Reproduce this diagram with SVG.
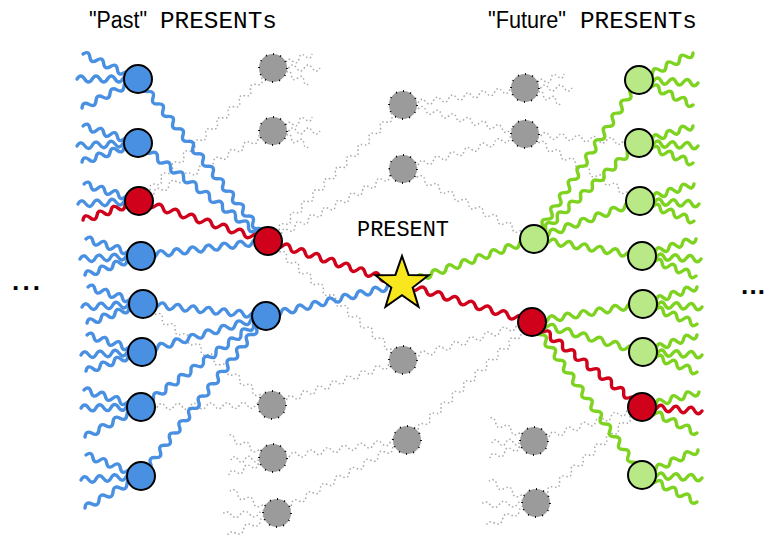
<svg xmlns="http://www.w3.org/2000/svg" width="767" height="541" viewBox="0 0 767 541">
  <style>
    .b{stroke:#4a90e2;stroke-width:3.4;stroke-linecap:round}
    .r{stroke:#d0021b;stroke-width:3.4;stroke-linecap:round}
    .g{stroke:#7ed321;stroke-width:3.4;stroke-linecap:round}
    .d{stroke:#a8a8a8;stroke-width:1.5;stroke-dasharray:1.5 2.5}
    .nb{fill:#4a90e2;stroke:#000;stroke-width:2}
    .nr{fill:#d0021b;stroke:#000;stroke-width:2}
    .ng{fill:#b8e986;stroke:#000;stroke-width:2}
    .nd{fill:#9b9b9b;stroke:#000;stroke-width:1.8;stroke-dasharray:1 6}
    .mono{font-family:'Liberation Mono','DejaVu Sans Mono',monospace}
    .sans{font-family:'Liberation Sans',Arial,sans-serif}
  </style>
  <defs>
    <!-- wavy strokes along the x axis: N periods of 16px, amplitude 3px -->
    <path id="w3" fill="none" vector-effect="non-scaling-stroke" d="M0 0q4-6 8 0t8 0 8 0 8 0 8 0 8 0"/>
    <path id="w4" fill="none" vector-effect="non-scaling-stroke" d="M0 0q4-6 8 0t8 0 8 0 8 0 8 0 8 0 8 0 8 0"/>
    <path id="w7" fill="none" vector-effect="non-scaling-stroke" d="M0 0q4-6 8 0t8 0 8 0 8 0 8 0 8 0 8 0 8 0 8 0 8 0 8 0 8 0 8 0 8 0"/>
    <path id="w8" fill="none" vector-effect="non-scaling-stroke" d="M0 0q4-6 8 0t8 0 8 0 8 0 8 0 8 0 8 0 8 0 8 0 8 0 8 0 8 0 8 0 8 0 8 0 8 0"/>
    <path id="w9" fill="none" vector-effect="non-scaling-stroke" d="M0 0q4-6 8 0t8 0 8 0 8 0 8 0 8 0 8 0 8 0 8 0 8 0 8 0 8 0 8 0 8 0 8 0 8 0 8 0 8 0"/>
    <path id="w10" fill="none" vector-effect="non-scaling-stroke" d="M0 0q4-6 8 0t8 0 8 0 8 0 8 0 8 0 8 0 8 0 8 0 8 0 8 0 8 0 8 0 8 0 8 0 8 0 8 0 8 0 8 0 8 0"/>
    <path id="w11" fill="none" vector-effect="non-scaling-stroke" d="M0 0q4-6 8 0t8 0 8 0 8 0 8 0 8 0 8 0 8 0 8 0 8 0 8 0 8 0 8 0 8 0 8 0 8 0 8 0 8 0 8 0 8 0 8 0 8 0"/>
    <path id="w12" fill="none" vector-effect="non-scaling-stroke" d="M0 0q4-6 8 0t8 0 8 0 8 0 8 0 8 0 8 0 8 0 8 0 8 0 8 0 8 0 8 0 8 0 8 0 8 0 8 0 8 0 8 0 8 0 8 0 8 0 8 0 8 0"/>
    <path id="w13" fill="none" vector-effect="non-scaling-stroke" d="M0 0q4-6 8 0t8 0 8 0 8 0 8 0 8 0 8 0 8 0 8 0 8 0 8 0 8 0 8 0 8 0 8 0 8 0 8 0 8 0 8 0 8 0 8 0 8 0 8 0 8 0 8 0 8 0"/>

    <!-- three loose ends fanning out to the left of a node -->
    <g id="fanL">
      <use href="#w4" transform="matrix(-.859 -.266 .295 -.955 0 0)"/>
      <use href="#w4" transform="matrix(-.953 .047 -.049 -.998 0 0)"/>
      <use href="#w4" transform="matrix(-.875 .297 -.321 -.947 0 0)"/>
    </g>
    <!-- three loose ends fanning out to the right of a node -->
    <g id="fanR">
      <use href="#w4" transform="matrix(.844 -.266 .300 .954 0 0)"/>
      <use href="#w4" transform="matrix(.922 .047 -.051 .998 0 0)"/>
      <use href="#w4" transform="matrix(.844 .3125 -.347 .938 0 0)"/>
    </g>
    <!-- short dotted ends -->
    <g id="fanGR">
      <use href="#w3" transform="matrix(.8125 -.292 .338 .942 0 0)"/>
      <use href="#w3" transform="matrix(.979 0 0 1 0 0)"/>
      <use href="#w3" transform="matrix(.771 .3125 -.376 .927 0 0)"/>
    </g>
    <g id="fanGLs">
      <use href="#w3" transform="matrix(-.958 -.458 .431 -.902 0 0)"/>
      <use href="#w3" transform="matrix(-.875 .042 -.048 -1 0 0)"/>
      <use href="#w3" transform="matrix(-.917 .354 -.36 -.932 0 0)"/>
    </g>
    <g id="fanGLl">
      <use href="#w3" transform="matrix(-.979 -.458 .424 -.906 0 0)"/>
      <use href="#w3" transform="matrix(-1.146 .042 -.036 -1 0 0)"/>
      <use href="#w3" transform="matrix(-1.042 .5 -.432 -.901 0 0)"/>
    </g>
  </defs>

  <rect width="767" height="541" fill="#fff"/>

  <g id="connectors">
    <!-- dotted grey alternatives -->
    <g class="d">
      <use href="#w12" transform="matrix(.698 -.693 .704 .710 139 201)"/>
      <use href="#w9" transform="matrix(.931 -.486 .463 .886 139 201)"/>
      <use href="#w10" transform="matrix(.806 .631 -.617 .788 143 304)"/>
      <use href="#w8" transform="matrix(1.023 -.016 .015 1 141 407)"/>
      <use href="#w12" transform="matrix(.703 -.708 .710 .705 268 241)"/>
      <use href="#w10" transform="matrix(.844 -.45 .471 .882 268 241)"/>
      <use href="#w11" transform="matrix(.767 .676 -.661 .750 268 241)"/>
      <use href="#w9" transform="matrix(.910 -.3125 .325 .946 272 405)"/>
      <use href="#w8" transform="matrix(1.047 -.141 .133 .991 273 458)"/>
      <use href="#w9" transform="matrix(.903 -.507 .490 .872 277 513)"/>
      <use href="#w8" transform="matrix(.953 -.133 .138 .990 403 105)"/>
      <use href="#w8" transform="matrix(.953 .227 -.231 .973 403 105)"/>
      <use href="#w8" transform="matrix(.953 -.273 .276 .961 403 169)"/>
      <use href="#w9" transform="matrix(.910 .486 -.471 .882 403 169)"/>
      <use href="#w8" transform="matrix(1.008 -.297 .283 .959 403 360)"/>
      <use href="#w11" transform="matrix(.710 -.670 .686 .727 407 440)"/>
      <use href="#w7" transform="matrix(1.018 .080 -.079 .997 525 134)"/>
      <use href="#w8" transform="matrix(.898 .523 -.503 .864 525 134)"/>
      <use href="#w7" transform="matrix(.964 -.304 .300 .954 534 441)"/>
      <use href="#w9" transform="matrix(.736 -.667 .671 .741 536 503)"/>
      <use href="#fanGR" transform="translate(273 68)"/>
      <use href="#fanGR" transform="translate(273 131)"/>
      <use href="#fanGR" transform="translate(525 88)"/>
      <use href="#fanGLs" transform="translate(273 458)"/>
      <use href="#fanGLs" transform="translate(534 441)"/>
      <use href="#fanGLl" transform="translate(277 513)"/>
      <use href="#fanGLl" transform="translate(536 503)"/>
    </g>

    <!-- loose ends of the outer columns -->
    <g class="b">
      <g transform="translate(138 79)">
        <use href="#w4" transform="matrix(-.859 -.391 .414 -.911 0 0)"/>
        <use href="#w4" transform="matrix(-.953 0 0 -1 0 0)"/>
        <use href="#w4" transform="matrix(-.875 .453 -.460 -.888 0 0)"/>
      </g>
      <use href="#fanL" transform="translate(138 143)"/>
      <g transform="translate(139 201)">
        <use href="#w4" transform="matrix(-.859 -.266 .295 -.955 0 0)"/>
        <use href="#w4" transform="matrix(-.953 .047 -.049 -.998 0 0)"/>
      </g>
      <use href="#fanL" transform="translate(141 256)"/>
      <use href="#fanL" transform="translate(143 304)"/>
      <use href="#fanL" transform="translate(142 352)"/>
      <g transform="translate(141 407)">
        <use href="#w4" transform="matrix(-.891 -.266 .286 -.958 0 0)"/>
        <use href="#w4" transform="matrix(-.9375 .016 -.017 -1 0 0)"/>
        <use href="#w4" transform="matrix(-.875 .469 -.472 -.882 0 0)"/>
      </g>
      <g transform="translate(141 476)">
        <use href="#w4" transform="matrix(-.859 -.328 .357 -.934 0 0)"/>
        <use href="#w4" transform="matrix(-.9375 .0625 -.067 -.998 0 0)"/>
        <use href="#w4" transform="matrix(-.875 .5 -.496 -.868 0 0)"/>
      </g>
    </g>
    <g class="g">
      <g transform="translate(639 80)">
        <use href="#w4" transform="matrix(.844 -.422 .447 .894 0 0)"/>
        <use href="#w4" transform="matrix(.922 .047 -.051 .998 0 0)"/>
        <use href="#w4" transform="matrix(.844 .391 -.420 .908 0 0)"/>
      </g>
      <use href="#fanR" transform="translate(639 143)"/>
      <use href="#fanR" transform="translate(640 201)"/>
      <use href="#fanR" transform="translate(642 256)"/>
      <use href="#fanR" transform="translate(643 304)"/>
      <use href="#fanR" transform="translate(643 352)"/>
      <g transform="translate(642 407)">
        <use href="#w4" transform="matrix(.891 -.234 .255 .968 0 0)"/>
        <use href="#w4" transform="matrix(.859 .406 -.428 .905 0 0)"/>
      </g>
      <g transform="translate(642 475)">
        <use href="#w4" transform="matrix(.875 -.391 .408 .913 0 0)"/>
        <use href="#w4" transform="matrix(.9375 .047 -.05 .999 0 0)"/>
        <use href="#w4" transform="matrix(.859 .422 -.44 .897 0 0)"/>
      </g>
    </g>

    <!-- blue links into the middle-left nodes -->
    <g class="b">
      <use href="#w13" transform="matrix(.625 .779 -.780 .626 138 79)"/>
      <use href="#w10" transform="matrix(.8125 .6125 -.602 .799 138 143)"/>
      <use href="#w8" transform="matrix(.992 -.117 .117 .993 141 256)"/>
      <use href="#w8" transform="matrix(.961 .094 -.097 .995 143 304)"/>
      <use href="#w8" transform="matrix(.969 -.281 .279 .960 142 352)"/>
      <use href="#w10" transform="matrix(.781 -.569 .589 .809 141 407)"/>
      <use href="#w13" transform="matrix(.601 -.769 .788 .616 141 476)"/>
      <use href="#w9" transform="matrix(.944 -.222 .229 .974 266 316)"/>
    </g>
    <!-- green links out of the middle-right nodes -->
    <g class="g">
      <use href="#w9" transform="matrix(.917 -.3125 .323 .946 402 284)"/>
      <use href="#w12" transform="matrix(.547 -.828 .835 .551 534 239)"/>
      <use href="#w9" transform="matrix(.729 -.667 .675 .738 534 239)"/>
      <use href="#w7" transform="matrix(.946 -.339 .337 .941 534 239)"/>
      <use href="#w7" transform="matrix(.964 .152 -.156 .988 534 239)"/>
      <use href="#w7" transform="matrix(.991 -.161 .160 .988 532 322)"/>
      <use href="#w7" transform="matrix(.991 .268 -.261 .965 532 322)"/>
      <use href="#w12" transform="matrix(.573 .797 -.812 .584 532 322)"/>
    </g>
    <!-- red thread through the present -->
    <g class="r">
      <use href="#w4" transform="translate(139 201) matrix(-.875 .297 -.321 -.947 0 0)"/>
      <use href="#w8" transform="matrix(1.008 .3125 -.296 .955 139 201)"/>
      <use href="#w9" transform="matrix(.931 .299 -.306 .952 268 241)"/>
      <use href="#w8" transform="matrix(1.016 .297 -.281 .960 402 284)"/>
      <use href="#w9" transform="matrix(.764 .590 -.612 .791 532 322)"/>
      <use href="#w4" transform="translate(642 407) matrix(.9375 .0625 -.067 .998 0 0)"/>
    </g>
  </g>

  <!-- past column -->
  <g id="L1"><circle class="nb" cx="138" cy="79" r="14"/></g>
  <g id="L2"><circle class="nb" cx="138" cy="143" r="14"/></g>
  <g id="L3"><circle class="nr" cx="139" cy="201" r="14"/></g>
  <g id="L4"><circle class="nb" cx="141" cy="256" r="14"/></g>
  <g id="L5"><circle class="nb" cx="143" cy="304" r="14"/></g>
  <g id="L6"><circle class="nb" cx="142" cy="352" r="14"/></g>
  <g id="L7"><circle class="nb" cx="141" cy="407" r="14"/></g>
  <g id="L8"><circle class="nb" cx="141" cy="476" r="14"/></g>
  <g id="M1"><circle class="nr" cx="268" cy="241" r="14"/></g>
  <g id="M2"><circle class="nb" cx="266" cy="316" r="14"/></g>

  <!-- grey alternatives -->
  <g id="G1"><circle class="nd" cx="273" cy="68" r="14" pathLength="84"/></g>
  <g id="G2"><circle class="nd" cx="273" cy="131" r="14" pathLength="84"/></g>
  <g id="G3"><circle class="nd" cx="272" cy="405" r="14" pathLength="84"/></g>
  <g id="G4"><circle class="nd" cx="273" cy="458" r="14" pathLength="84"/></g>
  <g id="G5"><circle class="nd" cx="277" cy="513" r="14" pathLength="84"/></g>
  <g id="C1"><circle class="nd" cx="403" cy="105" r="14" pathLength="84"/></g>
  <g id="C2"><circle class="nd" cx="403" cy="169" r="14" pathLength="84"/></g>
  <g id="C3"><circle class="nd" cx="403" cy="360" r="14" pathLength="84"/></g>
  <g id="C4"><circle class="nd" cx="407" cy="440" r="14" pathLength="84"/></g>
  <g id="R1"><circle class="nd" cx="525" cy="88" r="14" pathLength="84"/></g>
  <g id="R2"><circle class="nd" cx="525" cy="134" r="14" pathLength="84"/></g>
  <g id="R3"><circle class="nd" cx="534" cy="441" r="14" pathLength="84"/></g>
  <g id="R4"><circle class="nd" cx="536" cy="503" r="14" pathLength="84"/></g>

  <!-- the present -->
  <g id="present">
    <polygon points="402,256 408.6,274.9 428.6,275.3 412.7,287.5 418.5,306.7 402,295.3 385.5,306.7 391.3,287.5 375.4,275.3 395.4,274.9" fill="#f8e71c" stroke="#000" stroke-width="2"/>
    <text class="mono" x="357" y="236" font-size="22" textLength="92" lengthAdjust="spacingAndGlyphs">PRESENT</text>
  </g>

  <!-- future column -->
  <g id="MG1"><circle class="ng" cx="534" cy="239" r="14"/></g>
  <g id="MR"><circle class="nr" cx="532" cy="322" r="14"/></g>
  <g id="F1"><circle class="ng" cx="639" cy="80" r="14"/></g>
  <g id="F2"><circle class="ng" cx="639" cy="143" r="14"/></g>
  <g id="F3"><circle class="ng" cx="640" cy="201" r="14"/></g>
  <g id="F4"><circle class="ng" cx="642" cy="256" r="14"/></g>
  <g id="F5"><circle class="ng" cx="643" cy="304" r="14"/></g>
  <g id="F6"><circle class="ng" cx="643" cy="352" r="14"/></g>
  <g id="F7"><circle class="nr" cx="642" cy="407" r="14"/></g>
  <g id="F8"><circle class="ng" cx="642" cy="475" r="14"/></g>

  <!-- headings -->
  <g id="labels" fill="#000">
    <text y="28" font-size="23"><tspan class="sans" x="89" textLength="58" lengthAdjust="spacingAndGlyphs">"Past"</tspan><tspan class="mono" x="160" textLength="117" lengthAdjust="spacingAndGlyphs">PRESENTs</tspan></text>
    <text y="28" font-size="23"><tspan class="sans" x="488" textLength="78" lengthAdjust="spacingAndGlyphs">"Future"</tspan><tspan class="mono" x="580" textLength="117" lengthAdjust="spacingAndGlyphs">PRESENTs</tspan></text>
    <text class="sans" x="12" y="290" font-size="26" font-weight="bold" textLength="28" lengthAdjust="spacing">...</text>
    <text class="sans" x="741" y="294" font-size="26" font-weight="bold" textLength="24" lengthAdjust="spacing">...</text>
  </g>
</svg>
